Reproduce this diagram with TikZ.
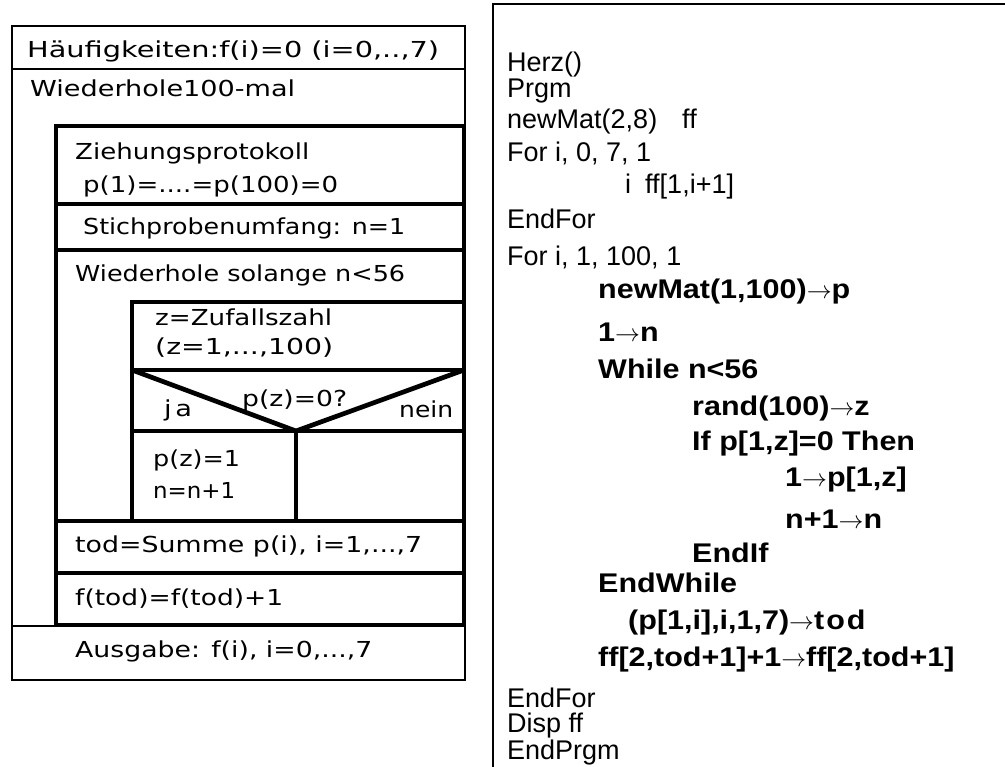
\documentclass[tikz,border=0pt]{standalone}
\usepackage{fontspec}
\usepackage{graphicx}
\setmainfont{Liberation Sans}
\newfontfamily\nsfont{DejaVu Sans}
\newfontfamily\codebf[FakeStretch=1.13]{Liberation Sans}
\tikzset{
  thinln/.style={line width=1.8pt},
  thickln/.style={line width=4.7pt},
  nstext/.style={anchor=base west, inner sep=0pt, font=\nsfont\fontsize{22}{26}\selectfont},
  code/.style={anchor=base west, inner sep=0pt, font=\fontsize{27}{30}\selectfont},
  codeb/.style={anchor=base west, inner sep=0pt, font=\codebf\bfseries\fontsize{27}{30}\selectfont},
}
\newcommand{\ar}{$\rightarrow$}
\newcommand{\nsw}[2]{\resizebox{#1pt}{\height}{#2}}
\begin{document}
\begin{tikzpicture}[x=1pt,y=-1pt]
\useasboundingbox (0,0) rectangle (1005,767);
% outer structogram
\draw[thinln] (12,26) rectangle (465,680);
\draw[thinln] (12,69) -- (465,69);
\draw[thinln] (12,626) -- (465,626);
% inner loop body
\draw[thickln] (56,126) rectangle (464,625);
\draw[thickln] (56,204) -- (464,204);
\draw[thickln] (56,250) -- (464,250);
\draw[thickln] (56,521) -- (464,521);
\draw[thickln] (56,573) -- (464,573);
% while body
\draw[thickln] (132,302) rectangle (464,521);
\draw[thickln] (132,370) -- (464,370);
\draw[thickln] (132,431) -- (464,431);
\draw[thickln] (132,370) -- (296,431) -- (464,370);
\draw[thickln] (296,431) -- (296,521);
% structogram texts
\node[nstext] (t1) at (27,58) {\nsw{412}{Häufigkeiten:f(i)=0 (i=0,..,7)}};
\node[nstext] (t2) at (30,97) {\nsw{265}{Wiederhole100-mal}};
\node[nstext] (t3) at (75,160) {\nsw{234}{Ziehungsprotokoll}};
\node[nstext] (t4) at (83,193) {\nsw{255}{p(1)=....=p(100)=0}};
\node[nstext] (t5) at (83,235) {\nsw{322}{Stichprobenumfang: n=1}};
\node[nstext] (t6) at (75,282) {\nsw{330}{Wiederhole solange n<56}};
\node[nstext] (t7) at (155,326) {\nsw{177}{z=Zufallszahl}};
\node[nstext] (t8) at (155,355) {\nsw{178}{(z=1,...,100)}};
\node[nstext] (t9) at (242,407) {\nsw{105}{p(z)=0?}};
\node[nstext] (t10) at (164,417) {\nsw{28}{j\kern3pt a}};
\node[nstext] (t11) at (399,418) {\nsw{54}{nein}};
\node[nstext] (t12) at (153,467) {\nsw{87}{p(z)=1}};
\node[nstext] (t13) at (153,498) {\nsw{82}{n=n+1}};
\node[nstext] (t14) at (75,552) {\nsw{347}{tod=Summe p(i), i=1,...,7}};
\node[nstext] (t15) at (75,605) {\nsw{208}{f(tod)=f(tod)+1}};
\node[nstext] (t16) at (75,657) {\nsw{297}{Ausgabe: f(i), i=0,...,7}};
% code panel
\draw[thinln] (493,767) -- (493,4) -- (1005,4);
\node[code] (c1) at (507,72) {Herz()};
\node[code] (c2) at (507,98) {Prgm};
\node[code] (c3) at (507,129) {newMat(2,8)\hspace{25pt}ff};
\node[code] (c4) at (507,162) {For i, 0, 7, 1};
\node[code] (c5) at (625,194) {i\hspace{14pt}ff[1,i+1]};
\node[code] (c6) at (507,229) {EndFor};
\node[code] (c7) at (507,266) {For i, 1, 100, 1};
\node[codeb] (c8) at (598,299) {newMat(1,100)\ar p};
\node[codeb] (c9) at (598,342) {1\ar n};
\node[codeb] (c10) at (598,379) {While n<56};
\node[codeb] (c11) at (692,416) {rand(100)\ar z};
\node[codeb] (c12) at (692,451) {If p[1,z]=0 Then};
\node[codeb] (c13) at (785,486) {1\ar p[1,z]};
\node[codeb] (c14) at (785,529) {n+1\ar n};
\node[codeb] (c15) at (692,562) {EndIf};
\node[codeb] (c16) at (598,592) {EndWhile};
\node[codeb] (c17) at (628,629) {(p[1,i],i,1,7)\ar t\kern2pt o\kern2pt d};
\node[codeb] (c18) at (598,666) {ff[2,tod+1]+1\ar ff[2,tod+1]};
\node[code] (c19) at (507,707) {EndFor};
\node[code] (c20) at (507,732) {Disp ff};
\node[code] (c21) at (507,759) {EndPrgm};
\end{tikzpicture}
\end{document}
